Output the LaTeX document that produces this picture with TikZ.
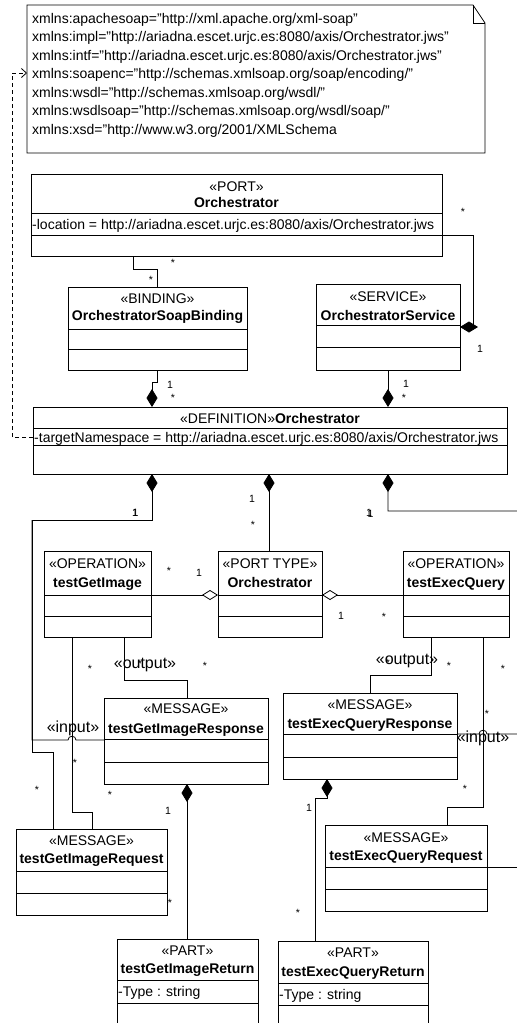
\documentclass[tikz,border=0pt]{standalone}
\usepackage{fontspec}
\setmainfont{Liberation Sans}
\usetikzlibrary{arrows.meta}
\begin{document}
\begin{tikzpicture}[x=1bp,y=-1bp,
  ln/.style={line width=0.8bp, draw=black},
  cls/.style={ln, rectangle, anchor=north west, inner sep=0pt, outer sep=0pt},
  area/.style={rectangle, anchor=north west, inner sep=0pt, outer sep=0pt},
  compe/.style={ln, -{Diamond[length=18bp,width=11bp]}},
  comps/.style={ln, {Diamond[length=18bp,width=11bp]}-},
  agge/.style={ln, -{Diamond[open,length=16bp,width=10bp]}},
  aggs/.style={ln, {Diamond[open,length=16bp,width=10bp]}-},
  dashlink/.style={ln, dash pattern=on 4bp off 3bp, -{Straight Barb[length=5bp,width=9bp]}},
  txt/.style={font=\fontsize{14bp}{16bp}\selectfont, inner sep=0pt, anchor=base},
  bold/.style={font=\fontsize{14bp}{16bp}\selectfont\bfseries, inner sep=0pt, anchor=base},
  attr/.style={font=\fontsize{14bp}{16bp}\selectfont, inner sep=0pt, anchor=base west},
  mult/.style={font=\fontsize{10.5bp}{12bp}\selectfont, inner sep=0pt, anchor=base},
  reltxt/.style={font=\fontsize{16bp}{18bp}\selectfont, inner sep=0pt, anchor=base},
]
\fill[white] (0,0) rectangle (517,1023);
\useasboundingbox (0,0) rectangle (517,1023);

% ---------- note ----------
\node[area, minimum width=458bp, minimum height=148bp] (note) at (27,5) {};
\draw[ln] (note.north west) -- ([xshift=-12bp]note.north east) -- ([yshift=-18bp]note.north east)
  -- (note.south east) -- (note.south west) -- cycle;
\draw[ln] ([xshift=-12bp]note.north east) |- ([yshift=-18bp]note.north east);
\node[attr] (n1) at (32,23)  {xmlns:apachesoap="http://xml.apache.org/xml-soap"};
\node[attr] (n2) at (32,41.5)  {xmlns:impl="http://ariadna.escet.urjc.es:8080/axis/Orchestrator.jws"};
\node[attr] (n3) at (32,60)  {xmlns:intf="http://ariadna.escet.urjc.es:8080/axis/Orchestrator.jws"};
\node[attr] (n4) at (32,78.5)  {xmlns:soapenc="http://schemas.xmlsoap.org/soap/encoding/"};
\node[attr] (n5) at (32,97)  {xmlns:wsdl="http://schemas.xmlsoap.org/wsdl/"};
\node[attr] (n6) at (32,115.5) {xmlns:wsdlsoap="http://schemas.xmlsoap.org/wsdl/soap/"};
\node[attr] (n7) at (32,134) {xmlns:xsd="http://www.w3.org/2001/XMLSchema};

% ---------- class boxes ----------
\node[cls, minimum width=411bp, minimum height=82bp] (port) at (31,174) {};
\draw[ln] (port.west |- 0,213) -- (port.east |- 0,213);
\draw[ln] (port.west |- 0,235) -- (port.east |- 0,235);
\node[txt]  (portS) at (port.north |- 0,191) {«PORT»};
\node[bold] (portN) at (port.north |- 0,207) {Orchestrator};
\node[attr] (portA) at (32,229) {-location = http://ariadna.escet.urjc.es:8080/axis/Orchestrator.jws};

\node[cls, minimum width=179bp, minimum height=83bp] (binding) at (68,287) {};
\draw[ln] (binding.west |- 0,329) -- (binding.east |- 0,329);
\draw[ln] (binding.west |- 0,349) -- (binding.east |- 0,349);
\node[txt]  (bindS) at (binding.north |- 0,303) {«BINDING»};
\node[bold] (bindN) at (binding.north |- 0,320) {OrchestratorSoapBinding};

\node[cls, minimum width=144bp, minimum height=86bp] (service) at (316,284) {};
\draw[ln] (service.west |- 0,325) -- (service.east |- 0,325);
\draw[ln] (service.west |- 0,347) -- (service.east |- 0,347);
\node[txt]  (servS) at (service.north |- 0,301) {«SERVICE»};
\node[bold] (servN) at (service.north |- 0,320) {OrchestratorService};

\node[cls, minimum width=474bp, minimum height=67bp] (definition) at (33,407) {};
\draw[ln] (definition.west |- 0,428) -- (definition.east |- 0,428);
\draw[ln] (definition.west |- 0,445) -- (definition.east |- 0,445);
\node[txt]  (defN) at (definition.north |- 0,423) {«DEFINITION»\textbf{Orchestrator}};
\node[attr] (defA) at (34,442) {-targetNamespace = http://ariadna.escet.urjc.es:8080/axis/Orchestrator.jws};

\node[cls, minimum width=107bp, minimum height=86bp] (opGet) at (44,551) {};
\draw[ln] (opGet.west |- 0,595) -- (opGet.east |- 0,595);
\draw[ln] (opGet.west |- 0,616) -- (opGet.east |- 0,616);
\node[txt]  (opGetS) at (opGet.north |- 0,568) {«OPERATION»};
\node[bold] (opGetN) at (opGet.north |- 0,587) {testGetImage};

\node[cls, minimum width=104bp, minimum height=86bp] (portType) at (218,551) {};
\draw[ln] (portType.west |- 0,595) -- (portType.east |- 0,595);
\draw[ln] (portType.west |- 0,616) -- (portType.east |- 0,616);
\node[txt]  (ptS) at (portType.north |- 0,568) {«PORT TYPE»};
\node[bold] (ptN) at (portType.north |- 0,587) {Orchestrator};

\node[cls, minimum width=106bp, minimum height=86bp] (opExec) at (403,551) {};
\draw[ln] (opExec.west |- 0,595) -- (opExec.east |- 0,595);
\draw[ln] (opExec.west |- 0,616) -- (opExec.east |- 0,616);
\node[txt]  (opExS) at (opExec.north |- 0,568) {«OPERATION»};
\node[bold] (opExN) at (opExec.north |- 0,587) {testExecQuery};

\node[cls, minimum width=164bp, minimum height=86bp] (respGet) at (104,698) {};
\draw[ln] (respGet.west |- 0,739) -- (respGet.east |- 0,739);
\draw[ln] (respGet.west |- 0,762) -- (respGet.east |- 0,762);
\node[txt]  (rgS) at (respGet.north |- 0,713) {«MESSAGE»};
\node[bold] (rgN) at (respGet.north |- 0,733) {testGetImageResponse};

\node[cls, minimum width=174bp, minimum height=86bp] (respExec) at (283,693) {};
\draw[ln] (respExec.west |- 0,734) -- (respExec.east |- 0,734);
\draw[ln] (respExec.west |- 0,757) -- (respExec.east |- 0,757);
\node[txt]  (reS) at (respExec.north |- 0,709) {«MESSAGE»};
\node[bold] (reN) at (respExec.north |- 0,728) {testExecQueryResponse};

\node[cls, minimum width=151bp, minimum height=86bp] (reqGet) at (16,829) {};
\draw[ln] (reqGet.west |- 0,871) -- (reqGet.east |- 0,871);
\draw[ln] (reqGet.west |- 0,893) -- (reqGet.east |- 0,893);
\node[txt]  (qgS) at (reqGet.north |- 0,845) {«MESSAGE»};
\node[bold] (qgN) at (reqGet.north |- 0,863) {testGetImageRequest};

\node[cls, minimum width=162bp, minimum height=86bp] (reqExec) at (325,825) {};
\draw[ln] (reqExec.west |- 0,867) -- (reqExec.east |- 0,867);
\draw[ln] (reqExec.west |- 0,889) -- (reqExec.east |- 0,889);
\node[txt]  (qeS) at (reqExec.north |- 0,842) {«MESSAGE»};
\node[bold] (qeN) at (reqExec.north |- 0,860) {testExecQueryRequest};

\node[cls, minimum width=141bp, minimum height=100bp] (partGet) at (117,939) {};
\draw[ln] (partGet.west |- 0,980) -- (partGet.east |- 0,980);
\draw[ln] (partGet.west |- 0,1003) -- (partGet.east |- 0,1003);
\node[txt]  (pgS) at (partGet.north |- 0,955) {«PART»};
\node[bold] (pgN) at (partGet.north |- 0,973) {testGetImageReturn};
\node[attr] (pgA) at (118,996) {-Type : string};

\node[cls, minimum width=150bp, minimum height=100bp] (partExec) at (278,941) {};
\draw[ln] (partExec.west |- 0,983) -- (partExec.east |- 0,983);
\draw[ln] (partExec.west |- 0,1005) -- (partExec.east |- 0,1005);
\node[txt]  (peS) at (partExec.north |- 0,957) {«PART»};
\node[bold] (peN) at (partExec.north |- 0,976) {testExecQueryReturn};
\node[attr] (peA) at (279,999) {-Type : string};

% ---------- connectors ----------
\draw[dashlink] (definition.west |- 0,437) -| (12,73) -- (note.west |- 0,73);

\draw[ln] (port.south -| 133,0) |- (157,269) -- (binding.north -| 157,0);
\draw[compe] (port.east |- 0,235) -| (473,327) -- (service.east |- 0,327);
\draw[compe] (binding.south -| 157,0) -- (157,382) -- (152,382) -- (definition.north -| 152,0);
\draw[compe] (service.south -| 388,0) -- (definition.north -| 388,0);
\draw[comps] (definition.south -| 269,0) -- (portType.north -| 269,0);

\draw[comps] (definition.south -| 152,0) |- (32,520) |- (53,752) -- (reqGet.north -| 53,0);
\draw[ln] (32,520) -- (32,740) -- (68,740) .. controls (68,735) and (76,735) .. (76,740) -- (respGet.west |- 0,740);

\draw[comps] (definition.south -| 388,0) |- (530,511) |- (487,734) .. controls (487,729) and (479,729) .. (479,734) -- (respExec.east |- 0,734);
\draw[ln] (530,511) |- (reqExec.east |- 0,867);

\draw[agge] (opGet.east |- 0,595) -- (portType.west |- 0,595);
\draw[aggs] (portType.east |- 0,595) -- (opExec.west |- 0,595);

\draw[ln] (opGet.south -| 72,0) |- (92,812) -- (reqGet.north -| 92,0);
\draw[ln] (opGet.south -| 124,0) |- (187,680) -- (respGet.north -| 187,0);
\draw[ln] (opExec.south -| 431,0) |- (370,675) -- (respExec.north -| 370,0);
\draw[ln] (opExec.south -| 483,0) |- (447,807) -- (reqExec.north -| 447,0);

\draw[comps] (respGet.south -| 187,0) -- (partGet.north -| 187,0);
\draw[comps] (respExec.south -| 327,0) -- (327,798) -- (315,798) -- (partExec.north -| 315,0);

% ---------- labels ----------
\node[reltxt] (o1) at (145,668) {«output»};
\node[reltxt] (o2) at (407,664) {«output»};
\node[reltxt] (i1) at (73,732) {«input»};
\node[reltxt] (i2) at (483,742) {«input»};

\node[mult] (m1)  at (173,266) {*};
\node[mult] (m2)  at (151,283) {*};
\node[mult] (m3)  at (463,215) {*};
\node[mult] (m4)  at (480,352) {1};
\node[mult] (m5)  at (170,388) {1};
\node[mult] (m6)  at (173,401) {*};
\node[mult] (m7)  at (406,387) {1};
\node[mult] (m8)  at (404,401) {*};
\node[mult] (m9)  at (252,502) {1};
\node[mult] (m10) at (253,528) {*};
\node[mult] (m11) at (135,516) {1};
\node[mult] (m11b) at (135.6,516) {1};
\node[mult] (m12) at (369,516) {1};
\node[mult] (m12b) at (370.5,517) {1};
\node[mult] (m13) at (169,574) {*};
\node[mult] (m14) at (199,576) {1};
\node[mult] (m15) at (341,619) {1};
\node[mult] (m16) at (384,620) {*};
\node[mult] (m17) at (90,672) {*};
\node[mult] (m18) at (75,766) {*};
\node[mult] (m19) at (205,669) {*};
\node[mult] (m20) at (140,667) {*};
\node[mult] (m21) at (37,793) {*};
\node[mult] (m22) at (110,798) {*};
\node[mult] (m23) at (168,814) {1};
\node[mult] (m24) at (170,906) {*};
\node[mult] (m25) at (449,669) {*};
\node[mult] (m26) at (388,666) {*};
\node[mult] (m27) at (503,672) {*};
\node[mult] (m28) at (487,717) {*};
\node[mult] (m29) at (465,792) {*};
\node[mult] (m30) at (309,811) {1};
\node[mult] (m31) at (298,916) {*};
\end{tikzpicture}
\end{document}
